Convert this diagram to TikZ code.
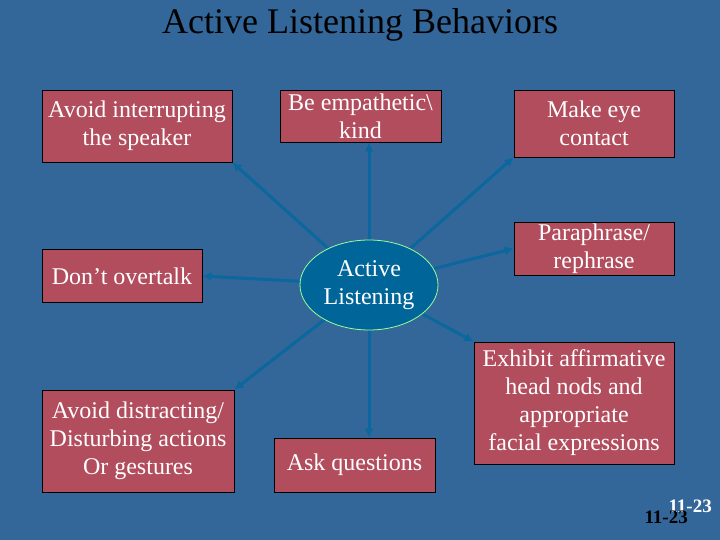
\documentclass[tikz,border=0pt]{standalone}
\usepackage{fontspec}
\setmainfont{Liberation Serif}
\usetikzlibrary{arrows.meta,shapes.geometric}
\definecolor{slide}{RGB}{51,102,153}
\definecolor{boxred}{RGB}{178,77,94}
\definecolor{hub}{RGB}{0,102,153}
\definecolor{spoke}{RGB}{10,104,158}
\definecolor{rim}{RGB}{153,255,153}
\pgfdeclarelayer{back}
\pgfdeclarelayer{spokes}
\pgfsetlayers{back,spokes,main}
\tikzset{
  behav/.style={draw=black, line width=0.8pt, fill=boxred, text=white,
    align=center, inner sep=0pt, font=\fontsize{24}{28}\selectfont},
  spokearrow/.style={draw=spoke, line width=3pt, -{Latex[length=9pt,width=9pt]}}
}
\begin{document}
\begin{tikzpicture}[x=1pt,y=-1pt]
  \begin{pgfonlayer}{back}
    \fill[slide] (0,0) rectangle (720,540);
  \end{pgfonlayer}
  \useasboundingbox (0,0) rectangle (720,540);
  \node[font=\fontsize{36}{40}\selectfont] (title) at (360,25) {Active Listening Behaviors};
  % boxes round the hub
  \node[behav, minimum width=190pt, minimum height=72pt] (intr) at (137,126) {Avoid interrupting\\the speaker};
  \node[behav, minimum width=161pt, minimum height=52pt] (empath) at (360.5,116) {Be empathetic\textbackslash\\kind};
  \node[behav, minimum width=160pt, minimum height=67pt] (eye) at (594,123.5) {Make eye\\contact};
  \node[behav, minimum width=160pt, minimum height=53pt] (overtalk) at (122,276) {Don’t overtalk};
  \node[behav, minimum width=160pt, minimum height=53pt] (para) at (594,248.5) {Paraphrase/\\rephrase};
  \node[behav, minimum width=200pt, minimum height=122pt] (exhibit) at (574,403) {Exhibit affirmative\\head nods and\\appropriate\\facial expressions};
  \node[behav, minimum width=192pt, minimum height=102pt] (distract) at (138,441) {Avoid distracting/\\Disturbing actions\\Or gestures};
  \node[behav, minimum width=161pt, minimum height=54pt] (ask) at (354.5,465) {Ask questions};
  \node[ellipse, draw=rim, line width=0.8pt, fill=hub, text=white, align=center,
    inner sep=0pt, minimum width=138pt, minimum height=90pt,
    font=\fontsize{24}{28}\selectfont] (listen) at (369,285) {Active\\Listening};
  % spokes
  \begin{pgfonlayer}{spokes}
    \foreach \t in {intr.south east, eye.south west, overtalk.east, para.west,
                    exhibit.north west, distract.north east}{
      \draw[spokearrow] (listen.center) -- (\t);
    }
    \draw[spokearrow] (listen.center) -- (listen.center |- empath.south);
    \draw[spokearrow] (listen.center) -- (listen.center |- ask.north);
  \end{pgfonlayer}
  % page numbers
  \node[anchor=base east, inner sep=0pt, text=white, font=\fontsize{19}{20}\bfseries] (pgA) at (712,512) {11-23};
  \node[anchor=base east, inner sep=0pt, text=black, font=\fontsize{19}{20}\bfseries] (pgB) at (688,523) {11-23};
\end{tikzpicture}
\end{document}
